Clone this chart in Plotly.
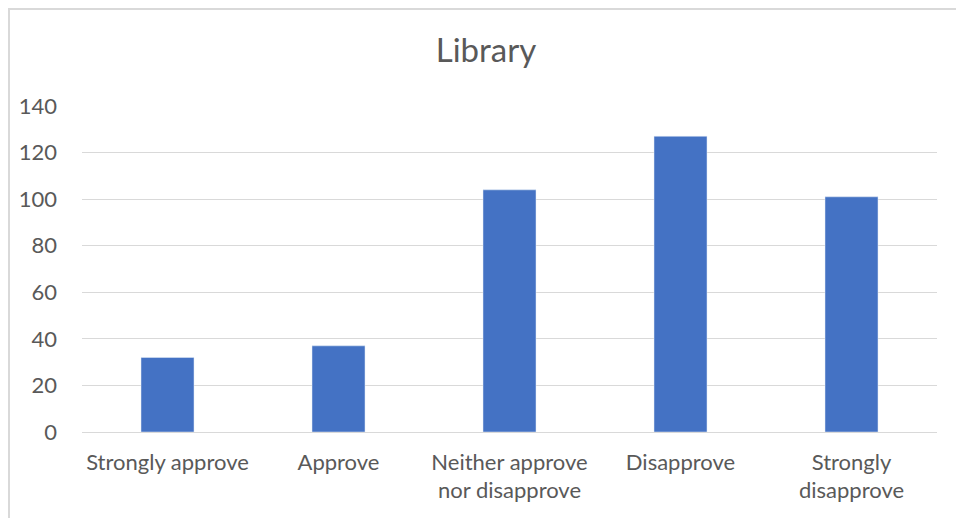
import plotly.graph_objects as go

# Survey responses for "Library"
categories = ["Strongly approve", "Approve", "Neither approve<br>nor disapprove",
              "Disapprove", "Strongly<br>disapprove"]
counts = [32, 37, 104, 127, 101]
y_ticks = [0, 20, 40, 60, 80, 100, 120, 140]

FONT = "Lato, 'Open Sans', sans-serif"
TEXT_GREY = "#595959"
GRID_GREY = "#d9d9d9"

# the page body adds an 8px margin, so the canvas is 8px smaller
W, H = 956, 510
L, T = 74, 98
PLOT_W, PLOT_H = 855, 326

fig = go.Figure(go.Bar(
    x=categories,
    y=counts,
    marker_color="#4472C4",
    width=0.31,
))

fig.update_layout(
    width=W,
    height=H,
    margin=dict(l=L, r=W - L - PLOT_W, t=T, b=H - T - PLOT_H),
    paper_bgcolor="white",
    plot_bgcolor="white",
    font=dict(family=FONT, color=TEXT_GREY, size=22),
    title=dict(
        text="Library",
        x=478 / W, xref="container", xanchor="center",
        y=1 - 42 / H, yref="container", yanchor="middle",
        font=dict(family=FONT, size=33, color=TEXT_GREY),
    ),
    showlegend=False,
)

fig.update_xaxes(
    showgrid=False,
    showline=True,
    linecolor=GRID_GREY,
    linewidth=1.3,
    ticks="",
    ticklabelstandoff=10,
    tickfont=dict(size=22, color=TEXT_GREY),
)

fig.update_yaxes(
    range=[0, 140],
    tickvals=y_ticks,
    showgrid=True,
    gridcolor=GRID_GREY,
    gridwidth=1.3,
    zeroline=False,
    showline=False,
    ticks="",
    ticklabelstandoff=24,
    tickfont=dict(size=22, color=TEXT_GREY),
)

# chart-area border (runs past the right/bottom edge like the original)
fig.add_shape(
    type="rect", xref="paper", yref="paper",
    x0=-(L - 1) / PLOT_W, x1=1.2, y0=-0.4, y1=1 + (T - 1) / PLOT_H,
    line=dict(color=GRID_GREY, width=2),
    fillcolor="rgba(0,0,0,0)",
    layer="below",
)

fig.write_html("out.html")
